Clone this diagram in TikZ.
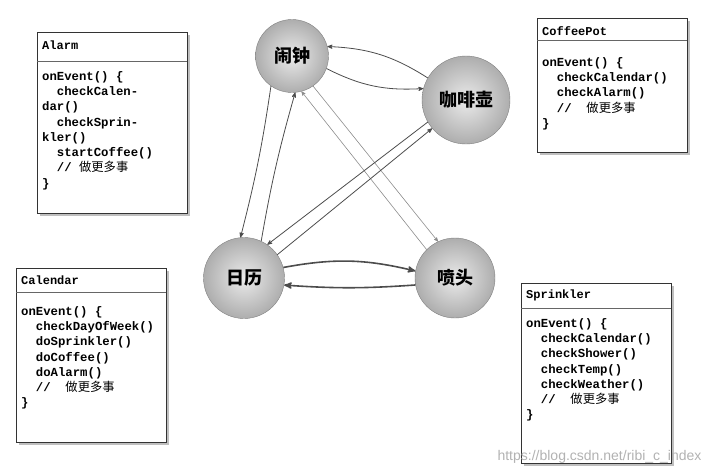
\documentclass[tikz,border=0pt]{standalone}
\usepackage{fontspec}
\setmonofont{Liberation Mono}
\newfontfamily\cjk{Noto Sans CJK SC}
\newfontfamily\urlfont{Liberation Sans}
\usetikzlibrary{shadows}
\usetikzlibrary{arrows}

\begin{document}
\begin{tikzpicture}[x=1pt,y=-1pt]
	%\draw[help lines] (0,0) grid (709,474);
	\useasboundingbox (0,0) rectangle (709,474);

	\tikzstyle{obox} = [draw=black!80,fill=white,line width=0.8pt,drop shadow={shadow xshift=3pt,shadow yshift=-3pt,opacity=0.5}]
	\tikzstyle{otitle} = [anchor=west,inner sep=0pt,font=\ttfamily\bfseries\fontsize{12}{12}\selectfont]
	\tikzstyle{ocode} = [anchor=north west,inner sep=0pt,align=left,font=\ttfamily\bfseries\fontsize{12.3}{15.3}\selectfont]
	\tikzstyle{onode} = [circle,draw=black!50,inner color=black!8,outer color=black!32,font=\cjk\bfseries\fontsize{18}{18}\selectfont]
	\tikzstyle{oedge} = [->,>=stealth',black!70,line width=0.8pt]
	\tikzstyle{tedge} = [->,>=stealth',black!45,line width=0.6pt]
	\tikzstyle{bedge} = [->,>=stealth',black!70,line width=1.6pt]

% boxes
\draw[obox] (37,32) rectangle (187,213);
\draw[black!60] (37,61) -- (187,61);
\node[otitle] (alarm) at (42,45) {Alarm};
\node[ocode] (alarmcode) at (42,71) {onEvent() \{\\
\ \ checkCalen-\\dar()\\
\ \ checkSprin-\\kler()\\
\ \ startCoffee()\\
\ \ // {\cjk\mdseries 做更多事}\\
\}};

\draw[obox] (537,18) rectangle (687,152);
\draw[black!60] (537,40) -- (687,40);
\node[otitle] (pot) at (542,31) {CoffeePot};
\node[ocode] (potcode) at (542,57) {onEvent() \{\\
\ \ checkCalendar()\\
\ \ checkAlarm()\\
\ \ //\ \ {\cjk\mdseries 做更多事}\\
\}};

\draw[obox] (16,268) rectangle (166,442);
\draw[black!60] (16,292) -- (166,292);
\node[otitle] (cal) at (21,280) {Calendar};
\node[ocode] (calcode) at (21,306) {onEvent() \{\\
\ \ checkDayOfWeek()\\
\ \ doSprinkler()\\
\ \ doCoffee()\\
\ \ doAlarm()\\
\ \ //\ \ {\cjk\mdseries 做更多事}\\
\}};

\draw[obox] (521,283) rectangle (671,463);
\draw[black!60] (521,308) -- (671,308);
\node[otitle] (spr) at (526,295) {Sprinkler};
\node[ocode] (sprcode) at (526,318) {onEvent() \{\\
\ \ checkCalendar()\\
\ \ checkShower()\\
\ \ checkTemp()\\
\ \ checkWeather()\\
\ \ //\ \ {\cjk\mdseries 做更多事}\\
\}};

% objects
\node[onode,minimum size=73pt] (v1) at (292,56) {闹钟};
\node[onode,minimum size=88pt] (v2) at (466,100) {咖啡壶};
\node[onode,minimum size=81pt] (v3) at (244,278) {日历};
\node[onode,minimum size=80pt] (v4) at (455,278) {喷头};

% messages
\draw[oedge] (v2.150) to[bend right=15] (v1.15) ;
\draw[oedge] (v1.-20) to[bend right=15] (v2.165);
\draw[oedge] (v1.-125) to[bend left=3] (v3.95);
\draw[oedge] (v3.65) to[bend left=3] (v1.-85);
\draw[tedge] (v1.-55) -- (v4.115);
\draw[tedge] (v4.135) -- (v1.-75);
\draw[oedge] (v2.-150) -- (v3.55);
\draw[oedge] (v3.35) -- (v2.-140);
\draw[bedge] (v3.15) to[bend left=12] (v4.170);
\draw[bedge] (v4.-170) to[bend left=4] (v3.-10);

\node[text=black!30,anchor=east,font=\urlfont\fontsize{14}{14}\selectfont] (url) at (705,457) {https://blog.csdn.net/ribi\_c\_index};
\end{tikzpicture}
\end{document}
